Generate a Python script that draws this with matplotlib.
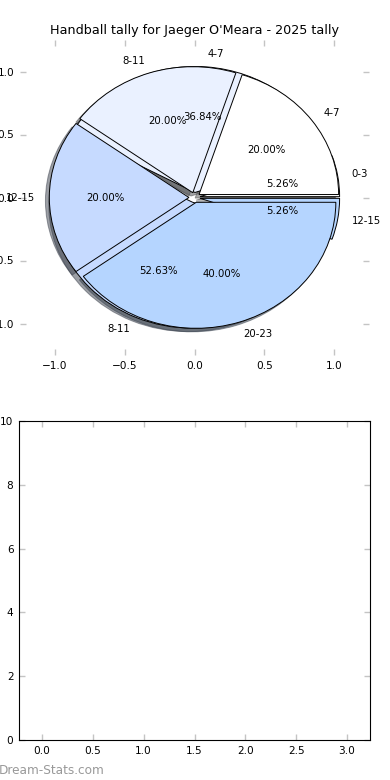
import matplotlib
matplotlib.use("Agg")
import matplotlib.pyplot as plt

title = "Handball tally for Jaeger O'Meara - 2025 tally"

# Pie B (drawn first, underneath)
labels_b = ["0-3", "4-7", "8-11", "12-15"]
values_b = [1, 7, 10, 1]
# Pie A (drawn on top)
labels_a = ["4-7", "8-11", "12-15", "20-23"]
values_a = [1, 1, 1, 2]

colors = ["#FFFFFF", "#EAF1FF", "#C6DAFF", "#B5D5FF"]

xticks_pie = [-1.0, -0.5, 0.0, 0.5, 1.0]
xticks_bottom = [0.0, 0.5, 1.0, 1.5, 2.0, 2.5, 3.0]
yticks_bottom = [0, 2, 4, 6, 8, 10]

fig = plt.figure(figsize=(3.9, 7.8), dpi=100)
ax1 = fig.add_axes([20/390, 1-355/780, 349/390, 315/780])
ax2 = fig.add_axes([19/390, 1-740/780, 351/390, 319/780])

wp = dict(edgecolor="black", linewidth=0.7)
tp = dict(fontsize=7.3)
ax1.pie(values_b, labels=labels_b, colors=colors, explode=[0.04]*4,
        autopct="%.2f%%", shadow=True, wedgeprops=wp, textprops=tp, frame=True)
ax1.pie(values_a, labels=labels_a, colors=colors, explode=[0.04]*4,
        autopct="%.2f%%", shadow=True, wedgeprops=wp, textprops=tp, frame=True)
ax1.set_aspect("auto")
ax1.set_xlim(-1.25, 1.25)
ax1.set_ylim(-1.25, 1.25)
ax1.set_xticks(xticks_pie)
ax1.set_yticks(xticks_pie)
for s in ax1.spines.values():
    s.set_visible(False)
ax1.set_title(title, fontsize=9.2, pad=4)

ax2.set_xlim(-0.225, 3.225)
ax2.set_ylim(0, 10)
ax2.set_xticks(xticks_bottom)
ax2.set_yticks(yticks_bottom)

for ax in (ax1, ax2):
    ax.tick_params(direction="in", length=4, width=1, color="#C4C4C4",
                   top=True, right=True, labelsize=7.6, pad=4)
    ax.set_facecolor("white")

fig.text(-0.003, 0.004, "Dream-Stats.com", fontsize=8.7, color="#999999",
         ha="left", va="bottom")

fig.savefig("out.png", dpi=100)
